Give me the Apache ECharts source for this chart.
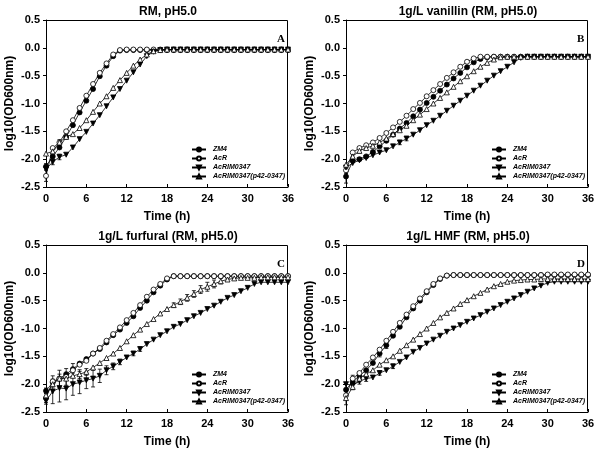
<!DOCTYPE html>
<html>
<head>
<meta charset="utf-8">
<script src="https://cdn.jsdelivr.net/npm/echarts@6/dist/echarts.min.js"></script>
<style>
  html, body { margin: 0; padding: 0; background: #fff; }
  #chart { width: 600px; height: 450px; }
</style>
</head>
<body>
<div id="chart"></div>
<script>
// time points (h)
const hours = [0, 1, 2, 3, 4, 5, 6, 7, 8, 9, 10, 11, 12, 13, 14, 15, 16, 17, 18,
  19, 20, 21, 22, 23, 24, 25, 26, 27, 28, 29, 30, 31, 32, 33, 34, 35, 36];
const strains = ["ZM4", "AcR", "AcRIM0347", "AcRIM0347(p42-0347)"];
const panelTitles = ["RM, pH5.0", "1g/L vanillin (RM, pH5.0)", "1g/L furfural (RM, pH5.0)", "1g/L HMF (RM, pH5.0)"];
const panelLetters = ["A", "B", "C", "D"];

// panel A: RM, pH5.0
const A_ZM4 = [-2.13, -1.95, -1.79, -1.60, -1.39, -1.16, -0.95, -0.74, -0.51, -0.32, -0.15, -0.05,
  -0.04, -0.04, -0.04, -0.04, -0.04, -0.04, -0.04, -0.04, -0.04, -0.04, -0.04, -0.04,
  -0.04, -0.04, -0.04, -0.04, -0.04, -0.04, -0.04, -0.04, -0.04, -0.04, -0.04, -0.04, -0.04];
const A_AcR = [-2.30, -1.80, -1.70, -1.50, -1.30, -1.08, -0.86, -0.65, -0.45, -0.28, -0.12, -0.04,
  -0.03, -0.03, -0.03, -0.03, -0.03, -0.03, -0.03, -0.03, -0.03, -0.03, -0.03, -0.03,
  -0.03, -0.03, -0.03, -0.03, -0.03, -0.03, -0.03, -0.03, -0.03, -0.03, -0.03, -0.03, -0.03];
const A_Mut = [-2.18, -2.05, -1.96, -1.92, -1.79, -1.64, -1.51, -1.36, -1.21, -1.05, -0.89, -0.74,
  -0.59, -0.44, -0.30, -0.15, -0.07, -0.04, -0.03, -0.03, -0.03, -0.03, -0.03, -0.03,
  -0.03, -0.03, -0.03, -0.03, -0.03, -0.03, -0.03, -0.03, -0.03, -0.03, -0.03, -0.03, -0.03];
const A_Comp = [-1.90, -1.86, -1.70, -1.60, -1.55, -1.44, -1.30, -1.15, -1.00, -0.87, -0.72, -0.58,
  -0.45, -0.32, -0.21, -0.12, -0.06, -0.04, -0.03, -0.03, -0.03, -0.03, -0.03, -0.03,
  -0.03, -0.03, -0.03, -0.03, -0.03, -0.03, -0.03, -0.03, -0.03, -0.03, -0.03, -0.03, -0.03];

// panel B: 1g/L vanillin
const B_ZM4 = [-2.31, -2.03, -2.00, -1.95, -1.87, -1.77, -1.67, -1.56, -1.45, -1.35, -1.23, -1.11,
  -0.99, -0.88, -0.77, -0.66, -0.55, -0.45, -0.35, -0.26, -0.20, -0.17, -0.16, -0.16,
  -0.16, -0.16, -0.16, -0.16, -0.16, -0.16, -0.16, -0.16, -0.16, -0.16, -0.16, -0.16, -0.16];
const B_AcR = [-2.20, -1.88, -1.80, -1.75, -1.70, -1.62, -1.53, -1.43, -1.33, -1.22, -1.10, -0.99,
  -0.87, -0.76, -0.65, -0.54, -0.44, -0.34, -0.25, -0.19, -0.16, -0.16, -0.16, -0.16,
  -0.16, -0.16, -0.16, -0.16, -0.16, -0.16, -0.16, -0.16, -0.16, -0.16, -0.16, -0.16, -0.16];
const B_Mut = [-2.15, -2.07, -2.02, -1.98, -1.93, -1.88, -1.84, -1.77, -1.70, -1.63, -1.56, -1.48,
  -1.39, -1.31, -1.22, -1.13, -1.04, -0.95, -0.86, -0.77, -0.68, -0.59, -0.50, -0.42,
  -0.34, -0.26, -0.18, -0.16, -0.16, -0.16, -0.16, -0.16, -0.16, -0.16, -0.16, -0.16, -0.16];
const B_Comp = [-2.10, -1.95, -1.85, -1.80, -1.76, -1.70, -1.63, -1.55, -1.48, -1.40, -1.30, -1.20,
  -1.10, -1.00, -0.90, -0.80, -0.70, -0.60, -0.51, -0.42, -0.34, -0.27, -0.21, -0.17,
  -0.16, -0.16, -0.16, -0.16, -0.16, -0.16, -0.16, -0.16, -0.16, -0.16, -0.16, -0.16, -0.16];

// panel C: 1g/L furfural
const C_ZM4 = [-2.12, -1.97, -1.90, -1.82, -1.73, -1.63, -1.55, -1.45, -1.37, -1.25, -1.12, -1.02,
  -0.90, -0.78, -0.63, -0.50, -0.35, -0.23, -0.12, -0.06, -0.06, -0.06, -0.06, -0.06,
  -0.06, -0.06, -0.06, -0.06, -0.06, -0.06, -0.06, -0.06, -0.06, -0.06, -0.06, -0.06, -0.06];
const C_AcR = [-2.25, -1.95, -1.90, -1.87, -1.75, -1.65, -1.58, -1.45, -1.35, -1.22, -1.10, -0.98,
  -0.85, -0.72, -0.58, -0.43, -0.30, -0.20, -0.10, -0.06, -0.06, -0.06, -0.06, -0.06,
  -0.06, -0.06, -0.06, -0.06, -0.06, -0.06, -0.06, -0.06, -0.06, -0.06, -0.06, -0.06, -0.06];
const C_Mut = [-2.30, -2.13, -2.07, -2.08, -2.00, -1.97, -1.93, -1.90, -1.85, -1.75, -1.68, -1.60,
  -1.52, -1.45, -1.37, -1.28, -1.20, -1.12, -1.05, -0.97, -0.92, -0.85, -0.78, -0.72,
  -0.65, -0.59, -0.52, -0.45, -0.40, -0.33, -0.27, -0.20, -0.17, -0.17, -0.17, -0.17, -0.17];
const C_Comp = [-2.20, -2.00, -1.90, -1.90, -1.85, -1.82, -1.78, -1.70, -1.62, -1.53, -1.45, -1.35,
  -1.23, -1.12, -1.02, -0.92, -0.83, -0.73, -0.65, -0.58, -0.52, -0.45, -0.38, -0.30,
  -0.25, -0.20, -0.15, -0.12, -0.10, -0.09, -0.09, -0.09, -0.08, -0.08, -0.08, -0.08, -0.08];

// panel D: 1g/L HMF
const D_ZM4 = [-2.10, -1.95, -1.85, -1.75, -1.62, -1.45, -1.30, -1.13, -0.97, -0.80, -0.64, -0.50,
  -0.35, -0.22, -0.11, -0.05, -0.04, -0.04, -0.04, -0.04, -0.04, -0.04, -0.04, -0.04,
  -0.04, -0.04, -0.04, -0.04, -0.04, -0.04, -0.04, -0.04, -0.04, -0.04, -0.04, -0.04, -0.04];
const D_AcR = [-2.20, -1.90, -1.80, -1.65, -1.52, -1.38, -1.22, -1.06, -0.90, -0.75, -0.60, -0.46,
  -0.33, -0.20, -0.10, -0.05, -0.04, -0.04, -0.04, -0.04, -0.04, -0.04, -0.04, -0.04,
  -0.04, -0.04, -0.04, -0.04, -0.04, -0.04, -0.03, -0.03, -0.03, -0.03, -0.03, -0.03, -0.03];
const D_Mut = [-2.00, -2.02, -1.95, -1.90, -1.88, -1.80, -1.75, -1.68, -1.60, -1.52, -1.42, -1.35,
  -1.27, -1.20, -1.13, -1.06, -1.00, -0.94, -0.88, -0.82, -0.76, -0.70, -0.64, -0.58,
  -0.52, -0.46, -0.40, -0.34, -0.28, -0.23, -0.18, -0.16, -0.16, -0.16, -0.16, -0.16, -0.16];
const D_Comp = [-2.25, -2.05, -1.90, -1.82, -1.75, -1.65, -1.57, -1.50, -1.40, -1.30, -1.20, -1.10,
  -1.00, -0.90, -0.80, -0.72, -0.64, -0.56, -0.49, -0.42, -0.36, -0.30, -0.24, -0.20,
  -0.16, -0.14, -0.13, -0.12, -0.12, -0.11, -0.11, -0.11, -0.11, -0.11, -0.11, -0.11, -0.11];

// visible error bars: [strain index, hour, +/- error]
const A_err = [[1, 0, 0.10], [2, 1, 0.05], [2, 2, 0.05], [3, 2, 0.05], [0, 0, 0.05]];
const B_err = [[0, 0, 0.12], [3, 1, 0.08], [1, 0, 0.06], [2, 8, 0.04], [2, 9, 0.04], [3, 2, 0.04]];
const C_err = [[0, 0, 0.05], [1, 0, 0.08], [2, 0, 0.06],
  [2, 1, 0.22], [2, 2, 0.25], [2, 3, 0.20], [2, 4, 0.20], [2, 5, 0.20], [2, 6, 0.15],
  [2, 7, 0.15], [2, 8, 0.12], [2, 9, 0.08], [2, 10, 0.06], [2, 11, 0.05], [2, 13, 0.04], [2, 14, 0.04],
  [1, 1, 0.10], [1, 2, 0.15], [1, 3, 0.15], [1, 4, 0.12], [3, 5, 0.08], [3, 6, 0.06],
  [3, 19, 0.04], [3, 20, 0.05], [3, 21, 0.06], [3, 22, 0.06], [3, 23, 0.07], [3, 24, 0.08],
  [3, 25, 0.07], [3, 26, 0.05]];
const D_err = [[0, 0, 0.10], [1, 0, 0.08], [3, 0, 0.12], [1, 1, 0.06], [3, 1, 0.05],
  [0, 5, 0.06], [0, 6, 0.06], [2, 2, 0.05], [2, 3, 0.05], [2, 5, 0.04], [2, 7, 0.04]];

const panelValues = [
  [A_ZM4, A_AcR, A_Mut, A_Comp],
  [B_ZM4, B_AcR, B_Mut, B_Comp],
  [C_ZM4, C_AcR, C_Mut, C_Comp],
  [D_ZM4, D_AcR, D_Mut, D_Comp]
];
const panelErrors = [A_err, B_err, C_err, D_err];

const font = "'Liberation Sans', Arial, sans-serif";
const panelPos = [[46, 20], [346, 20], [46, 245], [346, 245]];
const plotW = 242, plotH = 167;

// filled / open markers
const symbolStyles = [
  { symbol: "circle", fill: "#000", rotate: 0 },
  { symbol: "circle", fill: "#fff", rotate: 0 },
  { symbol: "triangle", fill: "#000", rotate: 180 },
  { symbol: "triangle", fill: "#fff", rotate: 0 }
];

const grids = [], xAxes = [], yAxes = [], titles = [], legends = [], series = [];

panelPos.forEach(([left, top], p) => {
  grids.push({ left: left, top: top, width: plotW, height: plotH });

  xAxes.push({
    type: "value", gridIndex: p, min: 0, max: 36, interval: 6,
    name: "Time (h)", nameLocation: "middle", nameGap: 24,
    nameTextStyle: { fontFamily: font, fontWeight: "bold", fontSize: 12, color: "#000" },
    axisLine: { show: true, onZero: false, lineStyle: { color: "#000", width: 1 } },
    axisTick: { inside: true, length: 3, lineStyle: { color: "#000" } },
    axisLabel: { fontFamily: font, fontWeight: "bold", fontSize: 11, color: "#000", margin: 6 },
    splitLine: { show: false }
  });
  yAxes.push({
    type: "value", gridIndex: p, min: -2.5, max: 0.5, interval: 0.5,
    name: "log10(OD600nm)", nameLocation: "middle", nameGap: 30,
    nameTextStyle: { fontFamily: font, fontWeight: "bold", fontSize: 12, color: "#000" },
    axisLine: { show: true, onZero: false, lineStyle: { color: "#000", width: 1 } },
    axisTick: { length: 3, lineStyle: { color: "#000" } },
    axisLabel: {
      fontFamily: font, fontWeight: "bold", fontSize: 11, color: "#000", margin: 6,
      formatter: v => (Math.abs(v) < 1e-9 ? "0.0" : v.toFixed(1))
    },
    splitLine: { show: false }
  });

  titles.push({
    text: panelTitles[p], left: left + plotW / 2 - 4, top: top - 19, textAlign: "center",
    textStyle: { fontFamily: font, fontWeight: "bold", fontSize: 12, color: "#000" }
  });
  titles.push({
    text: panelLetters[p], left: left + 226, top: top + 9,
    textStyle: { fontFamily: "'Liberation Serif', 'Times New Roman', serif", fontWeight: "bold", fontSize: 11, color: "#000" }
  });
  legends.push({
    data: strains, orient: "vertical", left: left + 145, top: top + 126,
    itemWidth: 14, itemHeight: 5, itemGap: 2, padding: 0, selectedMode: false,
    textStyle: { fontFamily: font, fontStyle: "italic", fontWeight: "bold", fontSize: 7, color: "#000", padding: [0, 0, 0, 2], lineHeight: 7 }
  });

  strains.forEach((name, s) => {
    const vals = panelValues[p][s];
    const st = symbolStyles[s];
    series.push({
      type: "line", name: name, xAxisIndex: p, yAxisIndex: p,
      data: hours.map((h, k) => [h, vals[k]]),
      symbol: st.symbol, symbolSize: 5, symbolRotate: st.rotate,
      showAllSymbol: true,
      lineStyle: { color: "#000", width: 0.8 },
      itemStyle: { color: st.fill, borderColor: "#000", borderWidth: 0.8 },
      z: 3 + s
    });
  });

  // error bars; the first item also draws the plot frame from the grid's coordinate system
  series.push({
    type: "custom", xAxisIndex: p, yAxisIndex: p,
    data: panelErrors[p].map(([s, h, e]) => {
      const v = panelValues[p][s][hours.indexOf(h)];
      return [h, v - e, v + e];
    }),
    encode: { x: 0, y: [1, 2] },
    renderItem: (params, api) => {
      const lo = api.coord([api.value(0), api.value(1)]);
      const hi = api.coord([api.value(0), api.value(2)]);
      const w = 2;
      const style = { stroke: "#000", lineWidth: 0.8 };
      const children = [
        { type: "line", shape: { x1: lo[0], y1: lo[1], x2: hi[0], y2: hi[1] }, style },
        { type: "line", shape: { x1: lo[0] - w, y1: lo[1], x2: lo[0] + w, y2: lo[1] }, style },
        { type: "line", shape: { x1: hi[0] - w, y1: hi[1], x2: hi[0] + w, y2: hi[1] }, style }
      ];
      if (params.dataIndex === 0) {
        const cs = params.coordSys;
        const x0 = Math.round(cs.x) + 0.5, y0 = Math.round(cs.y) + 0.5;
        const x1 = Math.round(cs.x + cs.width) - 0.5, y1 = Math.round(cs.y + cs.height) - 0.5;
        const fs = { stroke: "#000", lineWidth: 1 };
        children.push(
          { type: "line", shape: { x1: x0, y1: y0, x2: x1, y2: y0 }, style: fs },
          { type: "line", shape: { x1: x1, y1: y0, x2: x1, y2: y1 }, style: fs }
        );
      }
      return { type: "group", children: children };
    }
  });
});

const chart = echarts.init(document.getElementById("chart"));
chart.setOption({
  backgroundColor: "#fff",
  animation: false,
  title: titles,
  legend: legends,
  grid: grids,
  xAxis: xAxes,
  yAxis: yAxes,
  series: series
});
</script>
</body>
</html>
